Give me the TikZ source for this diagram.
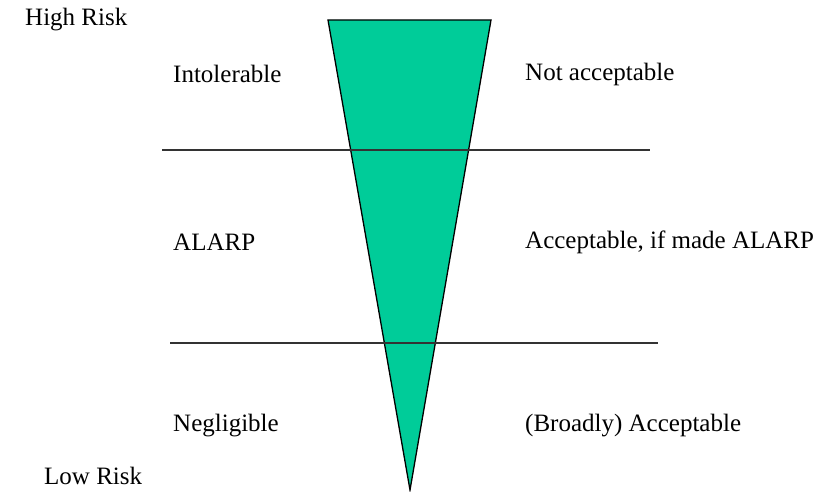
\documentclass[tikz,border=0pt]{standalone}
\usepackage{fontspec}
\setmainfont{Liberation Serif}
\usepackage{tikz}
\usetikzlibrary{positioning}
\definecolor{riskgreen}{RGB}{0,204,153}

\begin{document}
\begin{tikzpicture}[
  x=1pt, y=-1pt,
  font=\fontsize{25}{29}\selectfont,
  label/.style={anchor=west, inner sep=0pt},
  band/.style={line width=1.6pt, black!80},
  wedge/.style={draw=black, fill=riskgreen, line width=1.3pt}
]
\useasboundingbox (0,0) rectangle (817,492);
% risk wedge
\coordinate (tl) at (328,20);
\coordinate (tr) at (491,20);
\coordinate (tip) at (410,490);
\draw[wedge] (tl) -- (tr) -- (tip) -- cycle;
% band limits
\coordinate (b1l) at (162,150);
\coordinate (b1r) at (650,150);
\coordinate (b2l) at (170,343);
\coordinate (b2r) at (658,343);
\draw[band] (b1l) -- (b1r);
\draw[band] (b2l) -- (b2r);
% labels
\node[label] (high) at (25,20) {High Risk};
\node[label] (intol) at (173,74) {Intolerable};
\node[label] (notacc) at (525,74) {Not acceptable};
\node[label] (alarp) at (173,242) {ALARP};
\node[label] (accalarp) at (525,242) {Acceptable, if made ALARP};
\node[label] (negl) at (173,426) {Negligible};
\node[label] (broad) at (525,426) {(Broadly) Acceptable};
\node[label] (low) at (44,476) {Low Risk};
\end{tikzpicture}
\end{document}
